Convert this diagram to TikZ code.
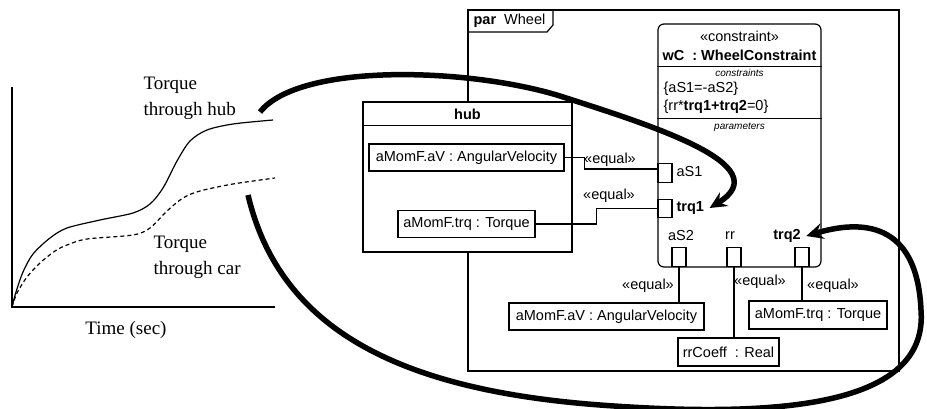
\documentclass[tikz,border=0pt]{standalone}
\usepackage{fontspec}
\setmainfont{Liberation Serif}
\setsansfont{Liberation Sans}
\usetikzlibrary{arrows.meta}

\begin{document}
\begin{tikzpicture}
  [x=1pt,y=-1pt,line width=1.2pt,
   every node/.style={inner sep=0pt,font=\sffamily\fontsize{14.5}{16}\selectfont},
   part/.style={draw,fill=white,minimum height=27pt},
   port/.style={draw,fill=white,minimum width=14pt,minimum height=19pt},
   bold/.style={font=\sffamily\bfseries\fontsize{14.5}{16}\selectfont},
   small/.style={font=\sffamily\itshape\fontsize{10}{12}\selectfont},
   serif/.style={font=\rmfamily\fontsize{19}{26}\selectfont,align=left},
   flow/.style={line width=5.5pt,-{Stealth[length=17pt,width=16pt,inset=6pt]}}]
  \useasboundingbox (0,0) rectangle (927,409);

  % torque plot
  \draw (12,87) -- (12,307) -- (275,307);
  \draw plot[smooth] coordinates {(12,307) (16,292) (23,272) (33,254) (50,238) (67,228) (100,220)
    (133,213) (150,204) (163,188) (177,161) (190,141) (207,130) (233,124) (273,120)};
  \draw[dash pattern=on 4pt off 3pt] plot[smooth] coordinates {(12,307) (17,293) (27,277) (40,263)
    (55,251) (67,245) (87,239) (133,235) (150,228) (167,211) (183,198) (200,191) (233,184) (275,178)};
  \node[serif,anchor=west] (hubtxt) at (143,98) {Torque\\through hub};
  \node[serif,anchor=west] (cartxt) at (153,257) {Torque\\through car};
  \node[serif] (time) at (126,330) {Time (sec)};

  % par frame
  \draw (468,10) rectangle (899,371);
  \draw (468,32) -- (547,32) -- (553,25) -- (553,10);
  \node[anchor=west] (par) at (473,21) {\textbf{par}\ \ Wheel};

  % hub
  \node[draw,fill=white,minimum width=209pt,minimum height=150pt] (hub) at (467.5,177) {};
  \draw ([yshift=-24pt]hub.north west) -- ([yshift=-24pt]hub.north east);
  \node[bold] (hubname) at (467.5,114) {hub};
  \node[part,minimum width=195pt] (aVh) at (466.5,157.5) {aMomF.aV : AngularVelocity};
  \node[part,minimum width=137pt] (trqh) at (466.5,224) {aMomF.trq : Torque};

  % constraint block
  \node[draw,rounded corners=6pt,minimum width=163pt,minimum height=243pt] (wc) at (739.5,145.5) {};
  \draw ([yshift=-43pt]wc.north west) -- ([yshift=-43pt]wc.north east);
  \draw ([yshift=-95pt]wc.north west) -- ([yshift=-95pt]wc.north east);
  \node (stereo) at (739.5,36) {«constraint»};
  \node[bold] (wcname) at (739.5,55) {wC\ \ : WheelConstraint};
  \node[small] (ctitle) at (739.5,73) {constraints};
  \node[anchor=west] (c1) at (663,89) {\{aS1=-aS2\}};
  \node[anchor=west] (c2) at (663,107) {\{rr*\textbf{trq1+trq2}=0\}};
  \node[small] (ptitle) at (739.5,127) {parameters};

  % parameters
  \node[port] (pS1) at (665,173) {};
  \node[port,minimum height=18pt] (pT1) at (665,208.5) {};
  \node[port] (pS2) at (679,257) {};
  \node[port] (prr) at (734,257) {};
  \node[port] (pT2) at (802,257) {};
  \node[anchor=west] (s1l) at (676,172) {aS1};
  \node[bold,anchor=west] (t1l) at (676,208) {trq1};
  \node (s2l) at (681,236) {aS2};
  \node (rrl) at (730,236) {rr};
  \node[bold] (t2l) at (787,236) {trq2};

  % bound parts
  \node[part,minimum width=195pt] (aVb) at (606.5,316.5) {aMomF.aV : AngularVelocity};
  \node[part,minimum width=101pt,minimum height=28pt] (rrb) at (728.5,352) {rrCoeff\ \ : Real};
  \node[part,minimum width=138pt,minimum height=28pt] (trqb) at (818,315) {aMomF.trq : Torque};

  % binding connectors
  \draw (aVh.east) -- ++(20,0) |- ([yshift=4pt]pS1.west);
  \draw (trqh.east) -- ++(61,0) |- (pT1.west);
  \foreach \p/\b in {pS2/aVb,prr/rrb,pT2/trqb}
    \draw (\p.south) -- (\p.south |- \b.north);
  \node (eq1) at (610,160) {«equal»};
  \node (eq2) at (609,196) {«equal»};
  \node (eq3) at (648,286) {«equal»};
  \node (eq4) at (760,282) {«equal»};
  \node (eq5) at (833,286) {«equal»};

  % torque flows
  \coordinate (hubend) at (260,112);
  \coordinate (carend) at (248,195);
  \draw[flow] (hubend) .. controls (300,62) and (470,68) .. (560,96)
    .. controls (650,125) and (780,165) .. ([xshift=5pt]t1l.east);
  \draw[flow] (carend) .. controls (280,330) and (400,390) .. (600,405)
    .. controls (800,420) and (928,400) .. (921,310)
    .. controls (917,220) and (860,220) .. ([xshift=5pt]t2l.east);
\end{tikzpicture}
\end{document}
